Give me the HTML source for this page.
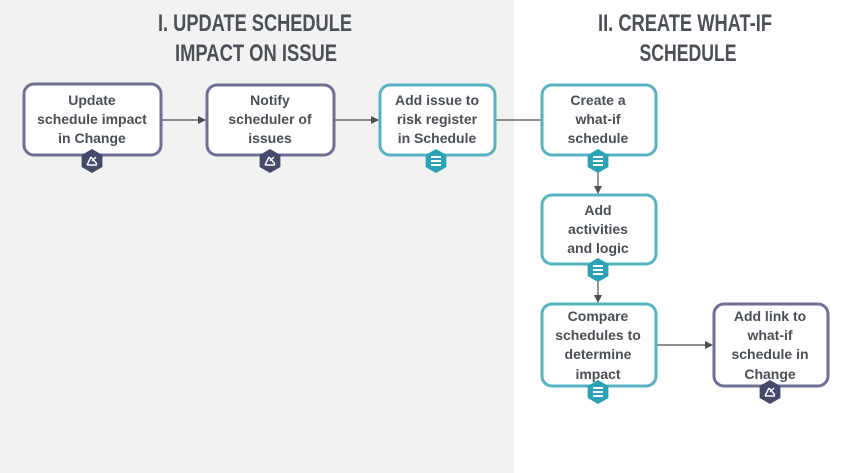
<!DOCTYPE html>
<html><head><meta charset="utf-8"><style>
body{margin:0;width:857px;height:473px;overflow:hidden;background:#fff}
svg{display:block}
.t{font-family:"Liberation Sans",sans-serif;font-weight:bold;font-size:24px;fill:#4b5157;text-anchor:middle}
.b{font-family:"Liberation Sans",sans-serif;font-weight:bold;font-size:14px;fill:#4a4f55;text-anchor:middle}
</style></head><body>
<svg width="857" height="473" viewBox="0 0 857 473">
<defs>
<marker id="a" markerWidth="8" markerHeight="8" refX="7" refY="4" orient="auto" markerUnits="userSpaceOnUse"><path d="M0,0 L8,4 L0,8z" fill="#4a4f55"/></marker>
<g id="hp"><polygon points="0,-12 10.4,-6 10.4,6 0,12 -10.4,6 -10.4,-6" fill="#454a6b"/><path d="M-5,4 L5,4 M-5,4 L-1,-4 M-1,-4 L5,3 M0,0 L4,-4" stroke="#fff" stroke-width="1.4" fill="none"/></g>
<g id="ht"><polygon points="0,-12 10.4,-6 10.4,6 0,12 -10.4,6 -10.4,-6" fill="#2aa3b8"/><path d="M-5,-4 H5 M-5,0 H5 M-5,4 H5" stroke="#fff" stroke-width="2"/></g>
</defs>
<rect x="0" y="0" width="514" height="473" fill="#f2f2f2"/>
<text class="t" x="255" y="31" textLength="194" lengthAdjust="spacingAndGlyphs">I. UPDATE SCHEDULE</text>
<text class="t" x="256" y="61" textLength="162" lengthAdjust="spacingAndGlyphs">IMPACT ON ISSUE</text>
<text class="t" x="685" y="31" textLength="174" lengthAdjust="spacingAndGlyphs">II. CREATE WHAT-IF</text>
<text class="t" x="688" y="61" textLength="97" lengthAdjust="spacingAndGlyphs">SCHEDULE</text>
<g fill="none" stroke="#4a4f55" stroke-width="1.2">
<line x1="161" y1="120" x2="205" y2="120" marker-end="url(#a)"/>
<line x1="334" y1="120" x2="378" y2="120" marker-end="url(#a)"/>
<line x1="495" y1="120" x2="541" y2="120"/>
<line x1="598" y1="155" x2="598" y2="193" marker-end="url(#a)"/>
<line x1="598" y1="264" x2="598" y2="302" marker-end="url(#a)"/>
<line x1="656" y1="345" x2="712" y2="345" marker-end="url(#a)"/>
</g>
<g fill="#fff" stroke-width="3">
<rect x="24" y="84" width="137" height="71" rx="10" stroke="#6e6f96"/>
<rect x="207" y="85" width="127" height="70" rx="10" stroke="#6e6f96"/>
<rect x="380" y="85" width="115" height="70" rx="10" stroke="#55b3c3"/>
<rect x="542" y="85" width="114" height="70" rx="10" stroke="#55b3c3"/>
<rect x="542" y="195" width="114" height="69" rx="10" stroke="#55b3c3"/>
<rect x="542" y="304" width="114" height="82" rx="10" stroke="#55b3c3"/>
<rect x="714" y="304" width="114" height="82" rx="10" stroke="#6e6f96"/>
</g>
<text class="b"><tspan x="92" y="105">Update</tspan><tspan x="92" y="124">schedule impact</tspan><tspan x="92" y="143">in Change</tspan></text>
<text class="b"><tspan x="270" y="105">Notify</tspan><tspan x="270" y="124">scheduler of</tspan><tspan x="270" y="143">issues</tspan></text>
<text class="b"><tspan x="437" y="105">Add issue to</tspan><tspan x="437" y="124">risk register</tspan><tspan x="437" y="143">in Schedule</tspan></text>
<text class="b"><tspan x="598" y="105">Create a</tspan><tspan x="598" y="124">what-if</tspan><tspan x="598" y="143">schedule</tspan></text>
<text class="b"><tspan x="598" y="215">Add</tspan><tspan x="598" y="234">activities</tspan><tspan x="598" y="253">and logic</tspan></text>
<text class="b"><tspan x="598" y="321">Compare</tspan><tspan x="598" y="340">schedules to</tspan><tspan x="598" y="359">determine</tspan><tspan x="598" y="379">impact</tspan></text>
<text class="b"><tspan x="770" y="321">Add link to</tspan><tspan x="770" y="340">what-if</tspan><tspan x="770" y="359">schedule in</tspan><tspan x="770" y="379">Change</tspan></text>
<use href="#hp" x="92" y="161"/>
<use href="#hp" x="270" y="161"/>
<use href="#ht" x="436" y="161"/>
<use href="#ht" x="598" y="161"/>
<use href="#ht" x="598" y="270"/>
<use href="#ht" x="598" y="392"/>
<use href="#hp" x="770" y="392"/>
</svg>
</body></html>
